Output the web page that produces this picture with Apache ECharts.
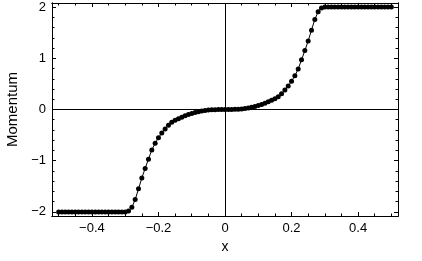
<!DOCTYPE html>
<html>
<head>
<meta charset="utf-8">
<script src="https://cdn.jsdelivr.net/npm/echarts@6/dist/echarts.min.js"></script>
<style>html,body{margin:0;padding:0;background:#fff}#c{width:422px;height:261px}</style>
</head>
<body>
<div id="c"></div>
<script>
const xValues = [-0.50,-0.49,-0.48,-0.47,-0.46,-0.45,-0.44,-0.43,-0.42,-0.41,-0.40,-0.39,-0.38,-0.37,-0.36,-0.35,-0.34,-0.33,-0.32,-0.31,-0.30,-0.29,-0.28,-0.27,-0.26,-0.25,-0.24,-0.23,-0.22,-0.21,-0.20,-0.19,-0.18,-0.17,-0.16,-0.15,-0.14,-0.13,-0.12,-0.11,-0.10,-0.09,-0.08,-0.07,-0.06,-0.05,-0.04,-0.03,-0.02,-0.01,0.00,0.01,0.02,0.03,0.04,0.05,0.06,0.07,0.08,0.09,0.10,0.11,0.12,0.13,0.14,0.15,0.16,0.17,0.18,0.19,0.20,0.21,0.22,0.23,0.24,0.25,0.26,0.27,0.28,0.29,0.30,0.31,0.32,0.33,0.34,0.35,0.36,0.37,0.38,0.39,0.40,0.41,0.42,0.43,0.44,0.45,0.46,0.47,0.48,0.49,0.50];
const momentum = [-2,-2,-2,-2,-2,-2,-2,-2,-2,-2,-2,-2,-2,-2,-2,-2,-2,-2,-2,-2,-2,-1.98,-1.91,-1.76,-1.55,-1.34,-1.15,-0.97,-0.79,-0.66,-0.55,-0.46,-0.38,-0.31,-0.25,-0.21,-0.18,-0.15,-0.12,-0.10,-0.08,-0.06,-0.042,-0.028,-0.018,-0.011,-0.006,-0.003,-0.001,0,0,0,0.001,0.003,0.006,0.011,0.018,0.028,0.042,0.06,0.08,0.10,0.12,0.15,0.18,0.21,0.25,0.31,0.38,0.46,0.55,0.66,0.79,0.97,1.15,1.34,1.55,1.76,1.91,1.98,2,2,2,2,2,2,2,2,2,2,2,2,2,2,2,2,2,2,2,2,2];
const xMajorTicks = [-0.4,-0.2,0,0.2,0.4];
const xMinorTicks = [-0.5,-0.45,-0.35,-0.3,-0.25,-0.15,-0.1,-0.05,0.05,0.1,0.15,0.25,0.3,0.35,0.45,0.5];
const yMajorTicks = [-2,-1,0,1,2];
const yMinorTicks = [-1.8,-1.6,-1.4,-1.2,-0.8,-0.6,-0.4,-0.2,0.2,0.4,0.6,0.8,1.2,1.4,1.6,1.8];
const xName = 'x';
const yName = 'Momentum';

const FONT = 'Liberation Sans';
const fmt = v => String(Math.round(v*10)/10).replace('-', '\u2212');
const XMIN=-0.52, XMAX=0.52, YMIN=-2.08, YMAX=2.08;
function xa(pos, ticks, len, labels, name){
  return {type:'value', min:XMIN, max:XMAX, position:pos,
    name: name||'', nameLocation:'middle', nameGap:19,
    nameTextStyle:{fontFamily:FONT,fontSize:14,color:'#000'},
    axisLine:{show:true,onZero:false,lineStyle:{color:'#000',width:1}},
    axisTick:{show:true,inside:true,length:len,customValues:ticks,lineStyle:{color:'#000',width:1}},
    axisLabel:{show:!!labels,customValues:ticks,formatter:fmt,fontFamily:FONT,fontSize:13,color:'#000',margin:6},
    splitLine:{show:false}};
}
function ya(pos, ticks, len, labels, name){
  return {type:'value', min:YMIN, max:YMAX, position:pos,
    name: name||'', nameLocation:'middle', nameGap:21,
    nameTextStyle:{fontFamily:FONT,fontSize:15,color:'#000'},
    axisLine:{show:true,onZero:false,lineStyle:{color:'#000',width:1}},
    axisTick:{show:true,inside:true,length:len,customValues:ticks,lineStyle:{color:'#000',width:1}},
    axisLabel:{show:!!labels,customValues:ticks,formatter:fmt,fontFamily:FONT,fontSize:13,color:'#000',margin:6},
    splitLine:{show:false}};
}
const data = xValues.map((x,i)=>[x, momentum[i]]);
const chart = echarts.init(document.getElementById('c'), null, {renderer:'canvas'});
chart.setOption({
  animation:false,
  backgroundColor:'#fff',
  grid:{left:52, right:24, top:3, bottom:45, containLabel:false, outerBoundsMode:'none'},
  xAxis:[xa('bottom',xMajorTicks,4,true,xName), xa('bottom',xMinorTicks,2.5,false), xa('top',xMajorTicks,4,false), xa('top',xMinorTicks,2.5,false)],
  yAxis:[ya('left',yMajorTicks,4,true,yName), ya('left',yMinorTicks,2.5,false), ya('right',yMajorTicks,4,false), ya('right',yMinorTicks,2.5,false)],
  series:[{
    type:'line', data:data, xAxisIndex:0, yAxisIndex:0,
    symbol:'circle', symbolSize:5, showAllSymbol:true,
    itemStyle:{color:'#000'}, lineStyle:{color:'#000',width:1},
    markLine:{silent:true, symbol:['none','none'], label:{show:false},
      lineStyle:{color:'#000',width:1,type:'solid'},
      data:[{xAxis:0},{yAxis:0}]}
  }]
});
</script>
</body>
</html>
